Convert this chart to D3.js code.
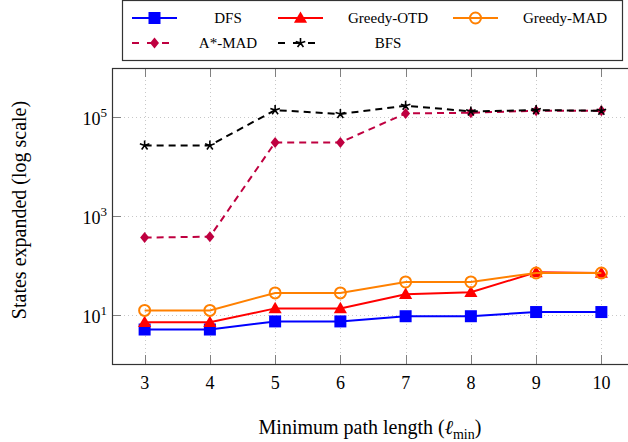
<!DOCTYPE html>
<html>
<head>
<meta charset="utf-8">
<script src="https://d3js.org/d3.v7.min.js"></script>
<style>
  body { margin: 0; background: #fff; }
  svg { display: block; font-family: "Liberation Serif", "DejaVu Serif", serif; }
</style>
</head>
<body>
<div id="plot"></div>
<script>
// data
var pathLengths = [3, 4, 5, 6, 7, 8, 9, 10];
var dfs = [5, 5, 7.3, 7.3, 9.3, 9.3, 11.3, 11.3];
var greedyOTD = [7, 7, 13.4, 13.4, 26, 28.5, 72, 70];
var greedyMAD = [12.2, 12.2, 27.6, 27.6, 46, 46, 70, 70];
var astarMAD = [365, 380, 31000, 31000, 120000, 124000, 136000, 136000];
var bfs = [27000, 27000, 140000, 117000, 172000, 132000, 140000, 136000];
var yTicks = [10, 1000, 100000];
var yTickExp = ["1", "3", "5"];

window.onload = function() {
  var w = 628, h = 442;
  var pLeft = 112, pRight = 634, pTop = 68, pBottom = 364;

  var series = [
    {name: "DFS", values: dfs, color: "#0000ff", dash: null, marker: "square"},
    {name: "Greedy-OTD", values: greedyOTD, color: "#ff0000", dash: null, marker: "triangle"},
    {name: "Greedy-MAD", values: greedyMAD, color: "#ff8000", dash: null, marker: "circle"},
    {name: "A*-MAD", values: astarMAD, color: "#bf0040", dash: "7,5", marker: "diamond"},
    {name: "BFS", values: bfs, color: "#000000", dash: "7,5", marker: "star"}
  ];

  // scales
  var x = d3.scaleLinear().domain([2.5, 10.5]).range([pLeft, pRight]);
  var y = d3.scaleLog().domain([1, 1e6]).range([pBottom, pTop]);

  var svg = d3.select("#plot").append("svg")
    .attr("width", w)
    .attr("height", h);

  // grid lines
  var grid = svg.append("g")
    .attr("stroke", "#c8c8c8")
    .attr("stroke-width", 1)
    .attr("stroke-dasharray", "1,3");
  grid.selectAll(".gx").data(pathLengths).enter().append("line")
    .attr("x1", d => Math.round(x(d)) + 0.5).attr("x2", d => Math.round(x(d)) + 0.5)
    .attr("y1", pTop).attr("y2", pBottom);
  grid.selectAll(".gy").data(yTicks).enter().append("line")
    .attr("x1", pLeft).attr("x2", pRight)
    .attr("y1", d => Math.round(y(d)) + 0.5).attr("y2", d => Math.round(y(d)) + 0.5);

  // tick marks (inside: top, bottom, left)
  var ticks = svg.append("g").attr("stroke", "#808080").attr("stroke-width", 1);
  ticks.selectAll(".tb").data(pathLengths).enter().append("line")
    .attr("x1", d => Math.round(x(d)) + 0.5).attr("x2", d => Math.round(x(d)) + 0.5)
    .attr("y1", pBottom).attr("y2", pBottom - 9);
  ticks.selectAll(".tt").data(pathLengths).enter().append("line")
    .attr("x1", d => Math.round(x(d)) + 0.5).attr("x2", d => Math.round(x(d)) + 0.5)
    .attr("y1", pTop).attr("y2", pTop + 9);
  ticks.selectAll(".tl").data(yTicks).enter().append("line")
    .attr("x1", pLeft).attr("x2", pLeft + 9)
    .attr("y1", d => Math.round(y(d)) + 0.5).attr("y2", d => Math.round(y(d)) + 0.5);

  // axis frame
  svg.append("rect")
    .attr("x", pLeft + 0.5).attr("y", pTop + 0.5)
    .attr("width", pRight - pLeft).attr("height", pBottom - pTop)
    .attr("fill", "none").attr("stroke", "#333").attr("stroke-width", 1.2);

  // x tick labels
  svg.selectAll(".xl").data(pathLengths).enter().append("text")
    .attr("x", d => x(d))
    .attr("y", pBottom + 25)
    .attr("text-anchor", "middle")
    .style("font-size", "18px")
    .text(d => d);

  // y tick labels
  var yl = svg.selectAll(".yl").data(yTicks).enter().append("text")
    .attr("x", pLeft - 5)
    .attr("y", d => y(d) + 8)
    .attr("text-anchor", "end")
    .style("font-size", "18px");
  yl.append("tspan").text("10");
  yl.append("tspan").attr("dy", -8).style("font-size", "13px").text((d, i) => yTickExp[i]);

  // axis titles
  var xt = svg.append("text")
    .attr("x", 370)
    .attr("y", 434)
    .attr("text-anchor", "middle")
    .style("font-size", "20px");
  xt.append("tspan").text("Minimum path length (");
  xt.append("tspan").style("font-style", "italic").text("\u2113");
  xt.append("tspan").attr("dy", 5).style("font-size", "14px").text("min");
  xt.append("tspan").attr("dy", -5).text(")");

  svg.append("text")
    .attr("transform", "translate(26," + ((pTop + pBottom) / 2 - 6) + ") rotate(-90)")
    .attr("text-anchor", "middle")
    .style("font-size", "20px")
    .text("States expanded (log scale)");

  // draw a marker at (cx, cy)
  function drawMarker(g, type, cx, cy, color) {
    if (type == "square") {
      g.append("rect").attr("x", cx - 6).attr("y", cy - 6).attr("width", 12).attr("height", 12)
        .attr("fill", color);
    } else if (type == "triangle") {
      g.append("path").attr("d", d3.symbol(d3.symbolTriangle, 75)())
        .attr("transform", "translate(" + cx + "," + (cy + 1) + ")").attr("fill", color);
    } else if (type == "circle") {
      g.append("circle").attr("cx", cx).attr("cy", cy).attr("r", 5.5)
        .attr("fill", "none").attr("stroke", color).attr("stroke-width", 2);
    } else if (type == "diamond") {
      g.append("path").attr("d", "M0,-5.5L4.5,0L0,5.5L-4.5,0Z")
        .attr("transform", "translate(" + cx + "," + cy + ")").attr("fill", color);
    } else if (type == "star") {
      var d = "";
      for (var k = 0; k < 5; k++) {
        var a = -Math.PI / 2 + k * 2 * Math.PI / 5;
        d += "M0,0L" + (5 * Math.cos(a)).toFixed(2) + "," + (5 * Math.sin(a)).toFixed(2);
      }
      g.append("path").attr("d", d)
        .attr("transform", "translate(" + cx + "," + cy + ")")
        .attr("fill", "none").attr("stroke", color).attr("stroke-width", 1.6);
    }
  }

  // draw lines + markers
  var line = d3.line()
    .x((d, i) => x(pathLengths[i]))
    .y(d => y(d));

  series.forEach(function(s) {
    var g = svg.append("g");
    g.append("path")
      .attr("d", line(s.values))
      .attr("fill", "none")
      .attr("stroke", s.color)
      .attr("stroke-width", 2)
      .attr("stroke-dasharray", s.dash);
    s.values.forEach(function(v, i) {
      drawMarker(g, s.marker, x(pathLengths[i]), y(v), s.color);
    });
  });

  // legend
  var legend = svg.append("g");
  legend.append("rect")
    .attr("x", 122.5).attr("y", 0.5).attr("width", 500).attr("height", 60)
    .attr("fill", "#fff").attr("stroke", "#333").attr("stroke-width", 1.2);

  var legendPos = [
    {lx: 132, ty: 18, tx: 228},
    {lx: 278, ty: 18, tx: 388},
    {lx: 453, ty: 18, tx: 565},
    {lx: 132, ty: 43, tx: 228},
    {lx: 278, ty: 43, tx: 388}
  ];
  series.forEach(function(s, i) {
    var p = legendPos[i];
    var g = legend.append("g");
    g.append("line")
      .attr("x1", p.lx).attr("x2", p.lx + 45)
      .attr("y1", p.ty).attr("y2", p.ty)
      .attr("stroke", s.color).attr("stroke-width", 2)
      .attr("stroke-dasharray", s.dash ? "7,8" : null);
    drawMarker(g, s.marker, p.lx + 22.5, p.ty, s.color);
    g.append("text")
      .attr("x", p.tx).attr("y", p.ty + 5)
      .attr("text-anchor", "middle")
      .style("font-size", "15px")
      .text(s.name);
  });
};
</script>
</body>
</html>
